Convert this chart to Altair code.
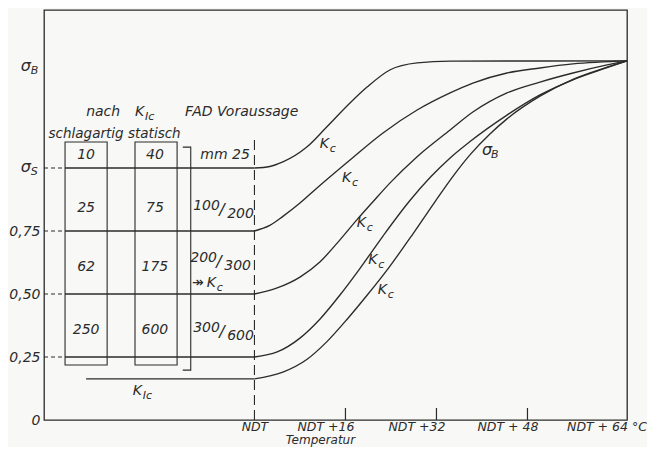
import altair as alt
import pandas as pd

# ---------------- axis ranges ----------------
T_DOMAIN = [-37, 65.5]          # temperature offset from NDT (°C)
V_DOMAIN = [0, 1.627]           # relative stress
W, H = 583, 410
PXT = W / (T_DOMAIN[1] - T_DOMAIN[0])
PXV = H / (V_DOMAIN[1] - V_DOMAIN[0])

FONT = "DejaVu Sans"
INK = "#2b2b2b"
BG = "#f8f8f6"

x_tick_values = [0, 16, 32, 48, 64]
x_tick_labels = ["NDT", "NDT +16", "NDT +32", "NDT + 48", "NDT + 64 °C"]
y_tick_values = [0, 0.25, 0.5, 0.75]
y_tick_labels = ["0", "0,25", "0,50", "0,75"]

# ---------------- curves ----------------
curve_names = ["mm 25", "100/200", "200/300", "300/600", "KIc"]
t_c1 = [0, 2.7, 5.0, 9.2, 12.7, 16.8, 19.8, 23.8, 28.6, 34.4, 65.5]
v_c1 = [1.0, 1.006, 1.024, 1.083, 1.163, 1.258, 1.321, 1.389, 1.417, 1.424, 1.425]
t_c2 = [0, 2.7, 5.0, 8.0, 11.0, 16.8, 22.6, 28.6, 34.4, 38.4, 44.4, 50.2, 56.0, 65.5]
v_c2 = [0.75, 0.772, 0.808, 0.861, 0.921, 1.032, 1.139, 1.230, 1.298, 1.337, 1.377, 1.397, 1.413, 1.425]
t_c3 = [0, 4.0, 8.0, 11.5, 15.0, 18.0, 20.8, 23.8, 28.6, 34.4, 38.4, 44.4, 50.2, 56.0, 62.0, 65.5]
v_c3 = [0.5, 0.524, 0.567, 0.627, 0.714, 0.794, 0.865, 0.940, 1.045, 1.151, 1.222, 1.298, 1.341, 1.377, 1.409, 1.425]
t_c4 = [0, 4.0, 8.0, 11.5, 15.0, 18.5, 22.6, 27.3, 31.0, 34.4, 37.9, 44.4, 50.2, 56.0, 62.0, 65.5]
v_c4 = [0.25, 0.27, 0.325, 0.40, 0.495, 0.60, 0.73, 0.87, 0.965, 1.04, 1.105, 1.21, 1.29, 1.35, 1.398, 1.425]
t_c5 = [0, 5.0, 9.2, 12.7, 16.3, 19.8, 23.8, 27.9, 31.7, 35.0, 38.0, 41.4, 44.4, 50.2, 56.0, 62.0, 65.5]
v_c5 = [0.163, 0.19, 0.24, 0.31, 0.40, 0.495, 0.61, 0.74, 0.865, 0.97, 1.055, 1.135, 1.195, 1.285, 1.352, 1.400, 1.425]

start_levels = [1.0, 0.75, 0.5, 0.25]
kic_level = 0.163

# ---------------- table on the left ----------------
col_schlag = ["10", "25", "62", "250"]
col_statisch = ["40", "75", "175", "600"]
row_v = [1.052, 0.841, 0.607, 0.357]
frac_num = ["100", "200", "300"]
frac_den = ["200", "300", "600"]
frac_right_t = [-0.1, -0.6, -0.1]
frac_v = [0.833, 0.627, 0.349]

box_t = [(-33.3, -25.9), (-21.0, -13.6)]
box_v = (0.218, 1.103)

# ---------------- build tables ----------------
rows = []
for name, ts, vs in zip(curve_names,
                        [t_c1, t_c2, t_c3, t_c4, t_c5],
                        [v_c1, v_c2, v_c3, v_c4, v_c5]):
    for i, (t, v) in enumerate(zip(ts, vs)):
        rows.append({"curve": name, "t": t, "v": v, "o": i})
curves = pd.DataFrame(rows)

xs = alt.Scale(domain=T_DOMAIN, nice=False, zero=False)
ys = alt.Scale(domain=V_DOMAIN, nice=False, zero=False)

x_expr = " : ".join(
    [f"datum.value == {v} ? '{l}'" for v, l in zip(x_tick_values, x_tick_labels)]
) + " : ''"
y_expr = " : ".join(
    [f"datum.value == {v} ? '{l}'" for v, l in zip(y_tick_values, y_tick_labels)]
) + " : ''"

xaxis = alt.Axis(values=x_tick_values, labelExpr=x_expr, ticks=False, domain=False,
                 grid=False, title=None, labelFont=FONT, labelFontStyle="italic",
                 labelFontSize=12.5, labelColor=INK, labelPadding=0, labelFlush=False,
                 labelOverlap=False,
                 labelOffset={"condition": [
                     {"test": "datum.value == 0", "value": 0},
                     {"test": "datum.value == 64", "value": -12}],
                     "value": -20})
yaxis = alt.Axis(values=y_tick_values, labelExpr=y_expr, ticks=False, domain=False,
                 grid=False, title=None, labelFont=FONT, labelFontStyle="italic",
                 labelFontSize=14, labelColor=INK, labelPadding=4)


def X(f="t:Q"):
    return alt.X(f, scale=xs, axis=xaxis)


def Y(f="v:Q"):
    return alt.Y(f, scale=ys, axis=yaxis)


curve_layer = alt.Chart(curves).mark_line(
    interpolate="monotone", color=INK, strokeWidth=1.35
).encode(x=X(), y=Y(), detail="curve:N", order="o:Q")

# horizontal solid segments from the table to NDT, plus KIc line
seg = pd.DataFrame(
    {"t": [box_t[0][0]] * len(start_levels) + [-29.6],
     "t2": [0] * (len(start_levels) + 1),
     "v": start_levels + [kic_level]}
)
seg_layer = alt.Chart(seg).mark_rule(color=INK, strokeWidth=1.35).encode(
    x=X(), x2="t2:Q", y=Y())

dash = pd.DataFrame({"t": [T_DOMAIN[0]] * 4, "t2": [box_t[0][0]] * 4, "v": start_levels})
dash_layer = alt.Chart(dash).mark_rule(color=INK, strokeWidth=1.2, strokeDash=[4, 3]).encode(
    x=X(), x2="t2:Q", y=Y())

ndt = pd.DataFrame({"t": [0], "v": [0], "v2": [1.13]})
ndt_layer = alt.Chart(ndt).mark_rule(color=INK, strokeWidth=1.1, strokeDash=[10, 5]).encode(
    x=X(), y=Y(), y2="v2:Q")

ticks = pd.DataFrame({"t": [16, 32, 48], "v": [0] * 3, "v2": [12 / PXV] * 3})
tick_layer = alt.Chart(ticks).mark_rule(color=INK, strokeWidth=1.2).encode(
    x=X(), y=Y(), y2="v2:Q")

boxes = pd.DataFrame({"t": [b[0] for b in box_t], "t2": [b[1] for b in box_t],
                      "v": [box_v[0]] * 2, "v2": [box_v[1]] * 2})
box_layer = alt.Chart(boxes).mark_rect(fillOpacity=0, stroke=INK, strokeWidth=1.1).encode(
    x=X(), x2="t2:Q", y=Y(), y2="v2:Q")

bracket = pd.DataFrame({"t": [-12.6, -11.2, -11.2, -12.6],
                        "v": [1.083, 1.083, 0.198, 0.198], "o": [0, 1, 2, 3]})
bracket_layer = alt.Chart(bracket).mark_line(color=INK, strokeWidth=1.1).encode(
    x=X(), y=Y(), order="o:Q")

# ---------------- text ----------------
center_rows = [
    ("nach", -26.6, 1.222, 14), ("schlagartig", -29.6, 1.135, 13.5),
    ("statisch", -17.6, 1.135, 13.5), ("Temperatur", 11.6, -0.0794, 12),
]
for a, b, v in zip(col_schlag, col_statisch, row_v):
    center_rows.append((a, -29.6, v, 14))
    center_rows.append((b, -17.5, v, 14))
for n, d, rt, fv in zip(frac_num, frac_den, frac_right_t, frac_v):
    center_rows.append(("/", rt - 32 / PXT, fv, 16))
center_df = pd.DataFrame(center_rows, columns=["text", "t", "v", "fs"])

right_rows = [("mm 25", -0.8, 1.052, 14)]
for n, d, rt, fv in zip(frac_num, frac_den, frac_right_t, frac_v):
    right_rows.append((d, rt, fv - 4 / PXV, 14))
    right_rows.append((n, rt - 34 / PXT, fv + 4 / PXV, 14))
right_df = pd.DataFrame(right_rows, columns=["text", "t", "v", "fs"])

left_rows = [("FAD Voraussage", -12.2, 1.222, 14), ("↠", -11.0, 0.544, 14)]
# labels with subscript: (t, v, main, sub, dx px)
sub_labels = [
    (-21.0, 1.222, "K", "Ic", 10), (-8.4, 0.544, "K", "c", 10),
    (11.5, 1.095, "K", "c", 10), (15.4, 0.960, "K", "c", 10),
    (18.0, 0.782, "K", "c", 10), (20.0, 0.635, "K", "c", 10),
    (21.7, 0.516, "K", "c", 10), (40.0, 1.071, "σ", "B", 9),
    (-21.4, 0.115, "K", "Ic", 10),
    (-41.1, 1.405, "σ", "B", 10), (-41.1, 1.004, "σ", "S", 10),
]
for t, v, m, s, dx in sub_labels:
    big = 16 if m == "σ" else 14
    left_rows.append((m, t, v, big))
    left_rows.append((s, t + dx / PXT, v - 5 / PXV, 11))
left_df = pd.DataFrame(left_rows, columns=["text", "t", "v", "fs"])


def text_layer(df, align):
    return alt.Chart(df).mark_text(
        align=align, baseline="middle", font=FONT, fontStyle="italic", color=INK
    ).encode(x=X(), y=Y(), text="text:N", size=alt.Size("fs:Q", scale=None))


chart = alt.layer(
    curve_layer, seg_layer, dash_layer, ndt_layer, tick_layer, box_layer, bracket_layer,
    text_layer(center_df, "center"), text_layer(right_df, "right"),
    text_layer(left_df, "left"),
).properties(
    width=W, height=H, background=BG,
    padding={"left": 36, "top": 2, "right": 20, "bottom": 27},
    autosize=alt.AutoSizeParams(type="none"),
).configure_view(stroke=INK, strokeWidth=1.3)

chart.save("out.html", embed_options={"renderer": "svg", "actions": False})
